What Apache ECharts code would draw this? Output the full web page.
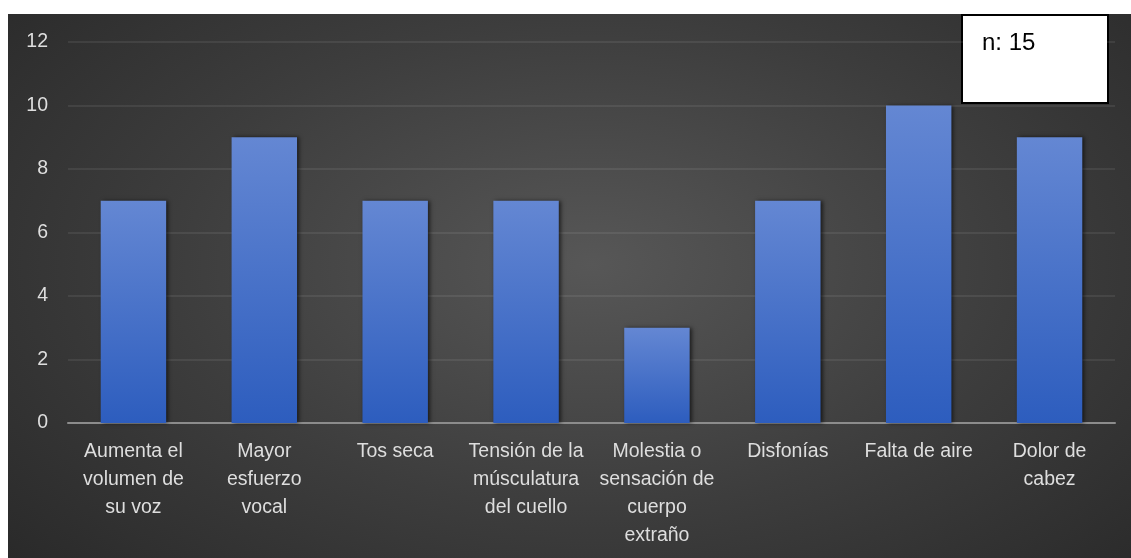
<!DOCTYPE html>
<html>
<head>
<meta charset="utf-8">
<script src="https://cdn.jsdelivr.net/npm/echarts@6/dist/echarts.min.js"></script>
<style>
html,body{margin:0;padding:0;background:#ffffff;}
#bg{position:absolute;left:8px;top:14px;width:1123px;height:544px;
background:radial-gradient(ellipse 75% 90% at 52% 46%, #575757 0%, #3d3d3d 50%, #262626 100%);}
#chart{position:absolute;left:0;top:0;width:1131px;height:558px;}
</style>
</head>
<body>
<div id="bg"></div>
<div id="chart"></div>
<script>
const categories = [
  "Aumenta el\nvolumen de\nsu voz",
  "Mayor\nesfuerzo\nvocal",
  "Tos seca",
  "Tensión de la\nmúsculatura\ndel cuello",
  "Molestia o\nsensación de\ncuerpo\nextraño",
  "Disfonías",
  "Falta de aire",
  "Dolor de\ncabez"
];
const values = [7, 9, 7, 7, 3, 7, 10, 9];
const yTicks = { min: 0, max: 12, interval: 2 };
const noteText = "n: 15";

const chart = echarts.init(document.getElementById('chart'), null, { renderer: 'canvas' });
chart.setOption({
  backgroundColor: 'transparent',
  animation: false,
  grid: { left: 68, right: 16, top: 42, bottom: 135, containLabel: false },
  xAxis: {
    type: 'category',
    data: categories,
    axisTick: { show: false },
    axisLine: { show: true, lineStyle: { color: '#8c8c8c', width: 2 } },
    axisLabel: {
      color: '#dedede', fontFamily: 'Liberation Sans, Arial, sans-serif',
      fontSize: 19.5, lineHeight: 28, margin: 15, interval: 0
    }
  },
  yAxis: {
    type: 'value',
    min: yTicks.min, max: yTicks.max, interval: yTicks.interval,
    axisLine: { show: false },
    axisTick: { show: false },
    splitLine: { lineStyle: { color: 'rgba(255,255,255,0.1)', width: 1.5 } },
    axisLabel: {
      color: '#dedede', fontFamily: 'Liberation Sans, Arial, sans-serif',
      fontSize: 19.5, margin: 20
    }
  },
  series: [{
    type: 'bar',
    data: values,
    barWidth: '50%',
    itemStyle: {
      color: new echarts.graphic.LinearGradient(0, 0, 0, 1, [
        { offset: 0, color: '#6487d3' },
        { offset: 1, color: '#2d5dbe' }
      ]),
      shadowBlur: 4,
      shadowColor: 'rgba(0,0,0,0.6)',
      shadowOffsetX: 2,
      shadowOffsetY: 0
    }
  }],
  graphic: [{
    type: 'group',
    left: 961, top: 14,
    children: [{
      type: 'rect',
      shape: { x: 0, y: 0, width: 146, height: 88 },
      style: { fill: '#ffffff', stroke: '#000000', lineWidth: 2 }
    }, {
      type: 'text',
      x: 20, y: 16,
      style: { text: noteText, fill: '#000000', font: '24px "Liberation Sans", Arial, sans-serif' }
    }]
  }]
});
</script>
</body>
</html>
